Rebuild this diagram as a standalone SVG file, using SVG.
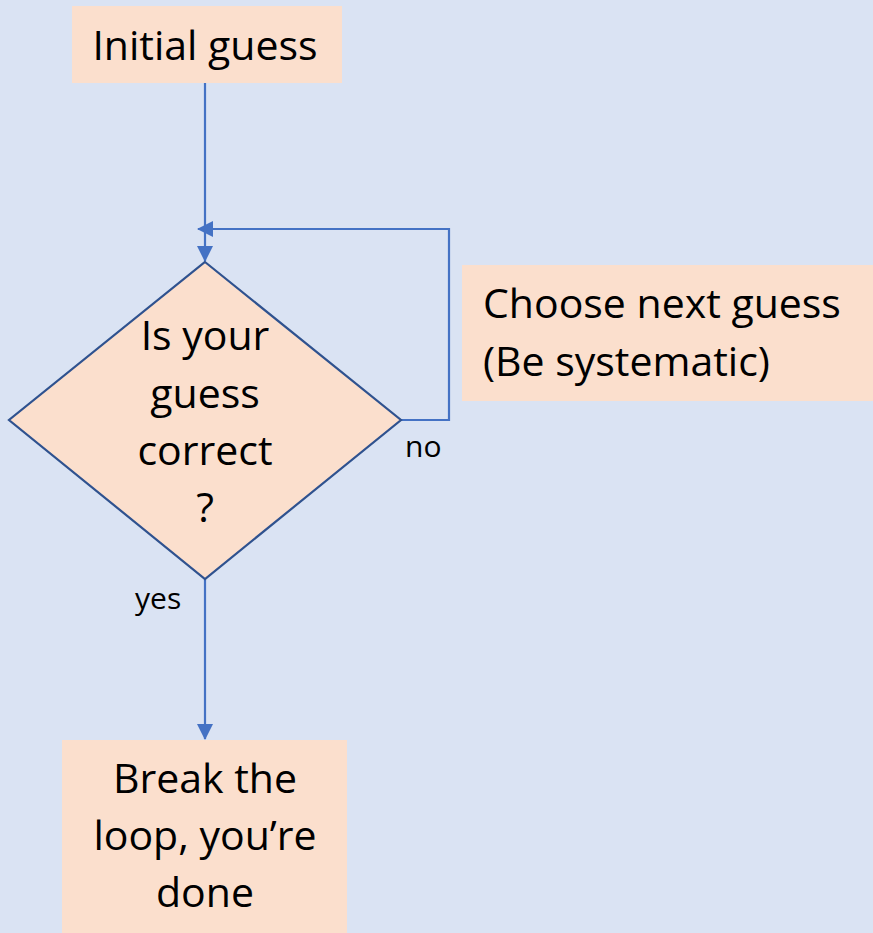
<svg xmlns="http://www.w3.org/2000/svg" width="873" height="933" viewBox="0 0 873 933">
<style>
.box{fill:#FBDFCD;}
.dia{fill:#FBDFCD;stroke:#2F528F;stroke-width:2.2;}
.t{font-family:"Open Sans","Liberation Sans",sans-serif;font-size:41px;fill:#000;}
.s{font-family:"Open Sans","Liberation Sans",sans-serif;font-size:30px;fill:#000;}
.c{fill:none;stroke:#4472C4;stroke-width:2.2;}
</style>
<defs>
<marker id="ah" markerUnits="userSpaceOnUse" markerWidth="16" markerHeight="16" viewBox="0 0 16 16" refX="15" refY="8" orient="auto">
<path d="M0,0 L16,8 L0,16 Z" fill="#4472C4"/>
</marker>
</defs>
<rect width="873" height="933" fill="#DAE3F3"/>
<g id="connectors">
<path class="c" d="M205,83 V261" marker-end="url(#ah)"/>
<path class="c" d="M401,420 H449 V229 H198" marker-end="url(#ah)"/>
<path class="c" d="M205,579 V739" marker-end="url(#ah)"/>
</g>
<g id="initial">
<rect class="box" x="72" y="6" width="270" height="77"/>
<text class="t" x="205" y="60" text-anchor="middle">Initial guess</text>
</g>
<g id="decision">
<polygon class="dia" points="205,262 401,420 205,579 9,420"/>
<text class="t" x="205" y="350" text-anchor="middle">Is your</text>
<text class="t" x="205" y="408" text-anchor="middle">guess</text>
<text class="t" x="205" y="465" text-anchor="middle">correct</text>
<text class="t" x="205" y="522" text-anchor="middle">?</text>
</g>
<g id="next">
<rect class="box" x="462" y="265" width="411" height="136"/>
<text class="t" x="483" y="318">Choose next guess</text>
<text class="t" x="483" y="376">(Be systematic)</text>
</g>
<g id="done">
<rect class="box" x="62" y="740" width="285" height="193"/>
<text class="t" x="205" y="793" text-anchor="middle">Break the</text>
<text class="t" x="205" y="850" text-anchor="middle">loop, you’re</text>
<text class="t" x="205" y="907" text-anchor="middle">done</text>
</g>
<g id="labels">
<text class="s" x="405" y="457">no</text>
<text class="s" x="135" y="609">yes</text>
</g>
</svg>
